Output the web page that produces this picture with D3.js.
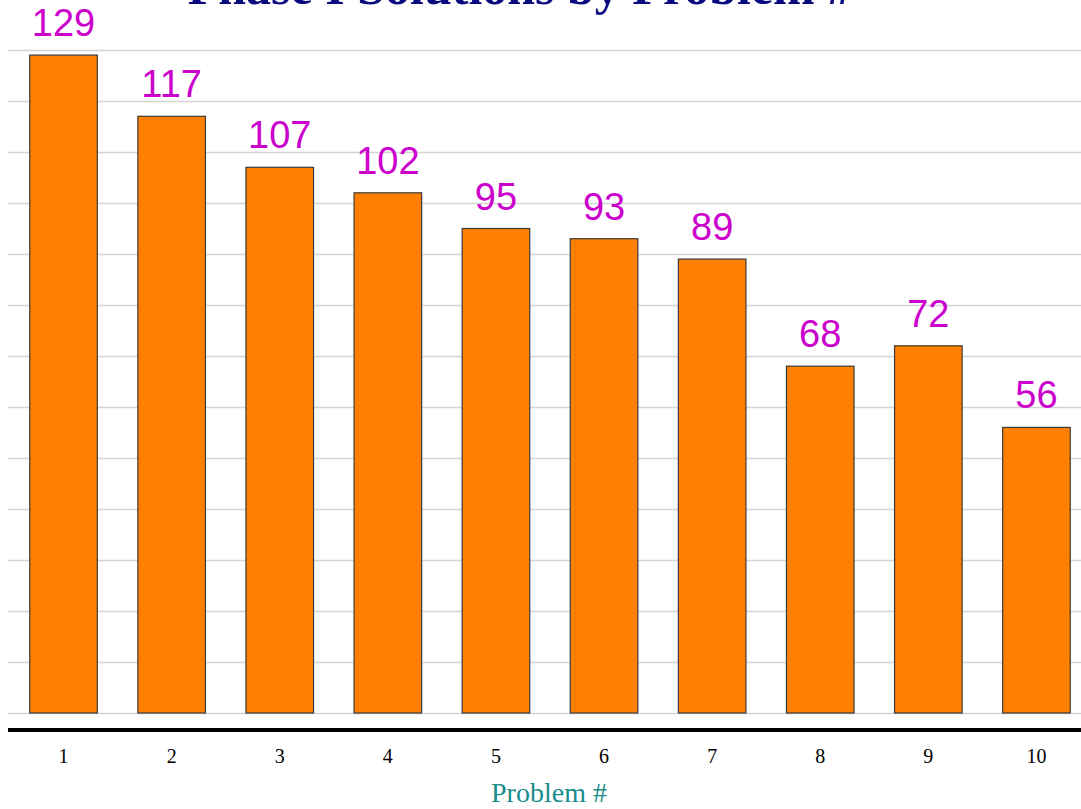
<!DOCTYPE html>
<html>
<head>
<meta charset="utf-8">
<script src="https://cdn.jsdelivr.net/npm/d3@7"></script>
<style>
  body { margin: 0; background: #fff; overflow: hidden; }
</style>
</head>
<body>
<script>
// Chart data
var problems = ["1", "2", "3", "4", "5", "6", "7", "8", "9", "10"];
var solutions = [129, 117, 107, 102, 95, 93, 89, 68, 72, 56];
var yTicks = [0, 10, 20, 30, 40, 50, 60, 70, 80, 90, 100, 110, 120, 130];

var chartTitle = "Phase I Solutions by Problem #";
var xTitle = "Problem #";

// SVG area
var svgWidth = 1081;
var svgHeight = 809;

var svg = d3.select("body")
  .append("svg")
  .attr("width", svgWidth)
  .attr("height", svgHeight);

// Scales
var xBandScale = d3.scaleBand()
  .domain(problems)
  .range([9.5, 1090.5])
  .paddingInner(0.375)
  .paddingOuter(0.1875);

var yLinearScale = d3.scaleLinear()
  .domain([0, 130])
  .range([713, 50]);

// Title (mostly cut off at the top)
svg.append("text")
  .attr("x", 520)
  .attr("y", 4)
  .attr("text-anchor", "middle")
  .attr("font-family", "'Liberation Serif', 'Times New Roman', serif")
  .attr("font-weight", "bold")
  .attr("font-size", 50)
  .attr("fill", "#0a0a80")
  .text(chartTitle);

// Gridlines
var leftAxis = d3.axisLeft(yLinearScale)
  .tickValues(yTicks)
  .tickSize(-(svgWidth - 8))
  .tickFormat("");

var grid = svg.append("g")
  .attr("transform", "translate(8, 0)")
  .call(leftAxis);
grid.select(".domain").remove();
grid.selectAll(".tick line")
  .attr("stroke", "#d4d4d4")
  .attr("stroke-width", 1.5);

// Bars
svg.selectAll(".bar")
  .data(solutions)
  .enter()
  .append("rect")
  .attr("class", "bar")
  .attr("x", (d, i) => xBandScale(problems[i]))
  .attr("y", d => yLinearScale(d))
  .attr("width", xBandScale.bandwidth())
  .attr("height", d => yLinearScale(0) - yLinearScale(d))
  .attr("fill", "#ff8000")
  .attr("stroke", "#3a3a3a")
  .attr("stroke-width", 1.2);

// Value labels
svg.selectAll(".value")
  .data(solutions)
  .enter()
  .append("text")
  .attr("class", "value")
  .attr("x", (d, i) => xBandScale(problems[i]) + xBandScale.bandwidth() / 2)
  .attr("y", d => yLinearScale(d) - 19)
  .attr("text-anchor", "middle")
  .attr("font-family", "'Liberation Sans', Arial, sans-serif")
  .attr("font-size", 38)
  .attr("fill", "#cc00cc")
  .text(d => d);

// Bottom axis
var bottomAxis = d3.axisBottom(xBandScale).tickSize(0).tickPadding(0);
var xAxis = svg.append("g")
  .attr("transform", "translate(0, 730)")
  .call(bottomAxis);
xAxis.select(".domain").remove();
xAxis.selectAll(".tick text")
  .attr("dy", 0)
  .attr("y", 33)
  .attr("font-family", "'Liberation Serif', 'Times New Roman', serif")
  .attr("font-size", 20)
  .attr("fill", "#000");

svg.append("line")
  .attr("x1", 8)
  .attr("x2", svgWidth)
  .attr("y1", 730)
  .attr("y2", 730)
  .attr("stroke", "#000")
  .attr("stroke-width", 4);

// X axis title
svg.append("text")
  .attr("x", 549)
  .attr("y", 802)
  .attr("text-anchor", "middle")
  .attr("font-family", "'Liberation Serif', 'Times New Roman', serif")
  .attr("font-size", 28)
  .attr("fill", "#1a8c8c")
  .text(xTitle);
</script>
</body>
</html>
